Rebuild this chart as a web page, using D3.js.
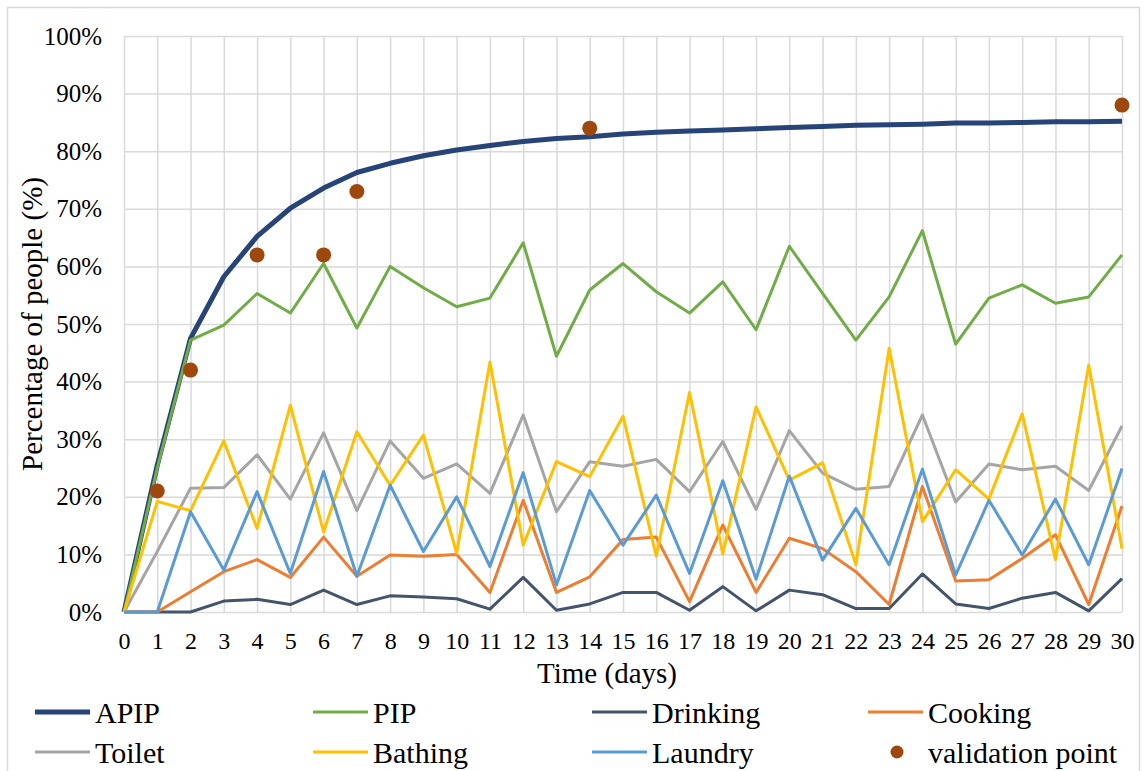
<!DOCTYPE html>
<html>
<head>
<meta charset="utf-8">
<script src="https://cdn.jsdelivr.net/npm/d3@7"></script>
<style>
  html, body { margin: 0; padding: 0; background: #fff; }
  svg text { font-family: "Liberation Serif", "Times New Roman", Times, "Nimbus Roman", "Nimbus Roman No9 L", FreeSerif, "Noto Serif", "DejaVu Serif", serif; fill: #000; }
</style>
</head>
<body>
<svg id="chart" width="1145" height="771"></svg>
<script>
// data (percent of people)
const days = [0,1,2,3,4,5,6,7,8,9,10,11,12,13,14,15,16,17,18,19,20,21,22,23,24,25,26,27,28,29,30];
const apip = [0,25.5,47.5,58.2,65.2,70.1,73.6,76.3,77.9,79.2,80.2,81.0,81.7,82.2,82.5,83.0,83.3,83.5,83.7,83.9,84.1,84.3,84.5,84.6,84.7,84.9,84.9,85.0,85.1,85.1,85.2];
const pip = [0,25,47.2,49.8,55.3,51.9,60.5,49.3,60,56.3,53,54.5,64.1,44.4,55.9,60.5,55.6,51.9,57.3,49,63.5,55.3,47.2,54.7,66.2,46.5,54.5,56.8,53.6,54.7,62];
const drinking = [0,0,0,1.9,2.2,1.3,3.8,1.3,2.8,2.6,2.3,0.5,6.0,0.3,1.4,3.4,3.4,0.3,4.4,0.2,3.8,3.0,0.6,0.6,6.6,1.4,0.6,2.4,3.4,0.2,5.8];
const cooking = [0,0,3.5,7,9.1,6,13,6.2,9.9,9.7,10,3.4,19.4,3.4,6.1,12.6,13,1.8,15.1,3.4,12.8,11,7,1.3,21.8,5.4,5.6,9.3,13.4,1.3,18.4];
const toilet = [0,10.5,21.5,21.6,27.3,19.6,31.1,17.6,29.7,23.2,25.7,20.6,34.2,17.4,26.1,25.3,26.5,20.9,29.6,17.8,31.5,24.1,21.3,21.8,34.2,19.1,25.7,24.7,25.3,21.1,32.3];
const bathing = [0,19.2,17.6,29.7,14.5,35.9,13.9,31.3,22,30.7,10.2,43.4,11.6,26.1,23.5,34,9.7,38.1,10.1,35.6,22.9,25.9,8.2,45.8,15.7,24.7,19.6,34.4,9.1,42.9,11];
const laundry = [0,0,17.4,7.3,20.9,6.7,24.4,6.2,22,10.5,20,7.9,24.2,4.7,21.1,11.6,20.3,6.7,22.8,5.7,23.6,9,18,8.2,24.8,6.4,19.4,9.9,19.6,8.2,24.9];
const valDays = [1,2,4,6,7,14,30];
const valPct = [21,42,62,62,73,84,88];
const yTicks = [0,10,20,30,40,50,60,70,80,90,100];

const series = [
  { name: "APIP", vals: apip, color: "#264478", w: 5 },
  { name: "PIP", vals: pip, color: "#70AD47", w: 3 },
  { name: "Drinking", vals: drinking, color: "#44546A", w: 3 },
  { name: "Cooking", vals: cooking, color: "#ED7D31", w: 3 },
  { name: "Toilet", vals: toilet, color: "#A5A5A5", w: 3 },
  { name: "Bathing", vals: bathing, color: "#FFC000", w: 3 },
  { name: "Laundry", vals: laundry, color: "#5B9BD5", w: 3 }
];
const dotColor = "#9E480E";

const svg = d3.select("#chart");
// outer frame
svg.append("rect").attr("x", 7.5).attr("y", 7.5).attr("width", 1132).attr("height", 770)
  .attr("fill", "#fff").attr("stroke", "#D9D9D9").attr("stroke-width", 1.5);

const pd = { left: 124, right: 1122, top: 36, bottom: 612 };
const x = d3.scaleLinear().domain([0, 30]).range([pd.left, pd.right]);
const y = d3.scaleLinear().domain([0, 100]).range([pd.bottom, pd.top]);

// gridlines
svg.append("g")
  .attr("transform", "translate(" + pd.left + ",0)")
  .call(d3.axisLeft(y).tickValues(yTicks).tickSize(-(pd.right - pd.left)).tickFormat(""))
  .call(g => g.select(".domain").remove())
  .call(g => g.selectAll("line").attr("stroke", "#D9D9D9").attr("stroke-width", 1.5));
svg.append("g")
  .attr("transform", "translate(0," + pd.bottom + ")")
  .call(d3.axisBottom(x).tickValues(days).tickSize(-(pd.bottom - pd.top)).tickFormat(""))
  .call(g => g.select(".domain").remove())
  .call(g => g.selectAll("line").attr("stroke", "#D9D9D9").attr("stroke-width", 1.5));

// y tick labels
svg.append("g")
  .attr("transform", "translate(" + pd.left + ",0)")
  .call(d3.axisLeft(y).tickValues(yTicks).tickSize(0).tickPadding(22).tickFormat(d => d + "%"))
  .call(g => g.select(".domain").remove())
  .call(g => g.selectAll("text").attr("font-size", 25).attr("fill", "#000"));

// x tick labels
svg.append("g")
  .attr("transform", "translate(0," + pd.bottom + ")")
  .call(d3.axisBottom(x).tickValues(days).tickSize(0).tickPadding(20).tickFormat(d3.format("d")))
  .call(g => g.select(".domain").remove())
  .call(g => g.selectAll("text").attr("font-size", 24).attr("fill", "#000"));

// axis titles
svg.append("text").attr("x", 607).attr("y", 683).attr("text-anchor", "middle")
  .attr("font-size", 29).text("Time (days)");
svg.append("text").attr("transform", "translate(42,324) rotate(-90)").attr("text-anchor", "middle")
  .attr("font-size", 29).text("Percentage of people (%)");

// lines
const line = d3.line().x((d, i) => x(days[i])).y(d => y(d));
series.forEach(s => {
  svg.append("path").datum(s.vals).attr("d", line)
    .attr("fill", "none").attr("stroke", s.color).attr("stroke-width", s.w)
    .attr("stroke-linejoin", "round");
});

// validation points
svg.append("g").selectAll("circle").data(valDays).join("circle")
  .attr("cx", d => x(d)).attr("cy", (d, i) => y(valPct[i])).attr("r", 7.5)
  .attr("fill", dotColor);

// legend
const colX = [35, 313, 592, 868];
const rowY = [712, 752];
const items = series.map(s => ({ name: s.name, color: s.color, w: s.w, type: "line" }))
  .concat([{ name: "validation point", color: dotColor, type: "dot" }]);
items.forEach((it, i) => {
  const lx = colX[i % 4], ly = rowY[Math.floor(i / 4)];
  if (it.type === "line") {
    svg.append("line").attr("x1", lx).attr("x2", lx + 55).attr("y1", ly).attr("y2", ly)
      .attr("stroke", it.color).attr("stroke-width", it.w);
  } else {
    svg.append("circle").attr("cx", lx + 29).attr("cy", ly).attr("r", 6.5).attr("fill", it.color);
  }
  svg.append("text").attr("x", lx + 60).attr("y", ly + 11).attr("font-size", 30).text(it.name);
});
</script>
</body>
</html>
